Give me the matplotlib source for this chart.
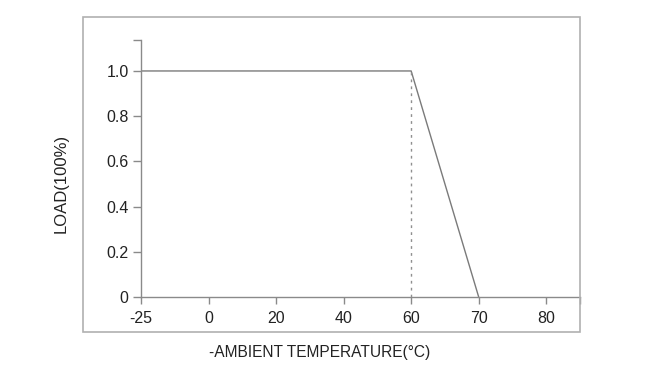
import matplotlib
matplotlib.use("Agg")
import matplotlib.pyplot as plt
from matplotlib.patches import Rectangle
import numpy as np

# tick labels on the x axis (evenly spaced, not to scale)
x_ticks = [-25, 0, 20, 40, 60, 70, 80]
y_ticks = [0, 0.2, 0.4, 0.6, 0.8, 1.0]
y_tick_labels = ["0", "0.2", "0.4", "0.6", "0.8", "1.0"]

# derating curve
temp = [-25, 60, 70]
load = [1.0, 1.0, 0.0]

plt.rcParams['font.family'] = ['Liberation Sans', 'DejaVu Sans']

def main():
    fig = plt.figure(figsize=(6.5, 3.66), dpi=100)
    ax = fig.add_axes([141 / 650, 69 / 366, 439 / 650, 257 / 366])

    # map temperatures onto the evenly spaced tick positions
    pos = np.arange(len(x_ticks))
    xp = np.interp(temp, x_ticks, pos)

    line_col = "#7a7a7a"
    ax.plot(xp, load, color=line_col, lw=1.0)
    x60 = np.interp(60, x_ticks, pos)
    ax.plot([x60, x60], [0, 1.0], color="#8f8f8f", lw=1.0, linestyle=(0, (2, 3)))

    ax.set_xlim(0, 6.5)
    ax.set_ylim(0, 1.137)
    ax.set_xticks(list(pos) + [6.5])
    ax.set_xticklabels([str(t) for t in x_ticks] + [""])
    ax.set_yticks(y_ticks + [1.137])
    ax.set_yticklabels(y_tick_labels + [""])

    for s in ["top", "right"]:
        ax.spines[s].set_visible(False)
    for s in ["left", "bottom"]:
        ax.spines[s].set_color("#8a8a8a")
        ax.spines[s].set_linewidth(1.0)
    ax.tick_params(axis="x", length=5, width=1.0, color="#8a8a8a",
                   labelsize=11.5, labelcolor="#222222", pad=5)
    ax.tick_params(axis="y", length=6, width=1.0, color="#8a8a8a",
                   labelsize=11.5, labelcolor="#222222", pad=3)

    # outer frame
    fig.patches.append(Rectangle((83 / 650, 1 - 332 / 366), 497 / 650, 315 / 366,
                                 transform=fig.transFigure, fill=False,
                                 edgecolor="#b0b0b0", lw=1.2))

    fig.text(61 / 650, 0.50, "LOAD(100%)", rotation=90, ha="center", va="center",
             fontsize=12, color="#222222")
    fig.text(320 / 650, 1 - 352 / 366, "-AMBIENT TEMPERATURE(°C)", ha="center",
             va="center", fontsize=11.2, color="#222222")

    fig.savefig("out.png", dpi=100)
    plt.close(fig)

if __name__ == "__main__":
    main()
